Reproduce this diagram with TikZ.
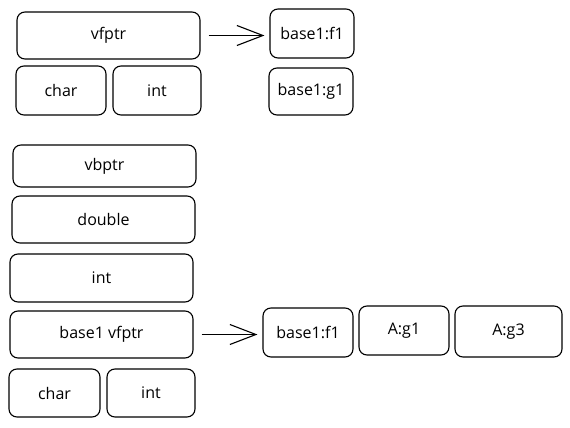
\documentclass[tikz,border=0pt]{standalone}
\usepackage{fontspec}
\setmainfont{Open Sans}
\usetikzlibrary{arrows.meta}
\tikzset{
  cell/.style={draw=black, line width=1.1pt, rounded corners=8pt, inner sep=0pt,
    font=\fontsize{16}{19}\selectfont, text=black},
  arr/.style={draw=black, line width=1.1pt, -{Straight Barb[length=26pt,width=20pt,line width=1.1pt]}}
}
\begin{document}
\begin{tikzpicture}[x=1pt,y=-1pt]
\useasboundingbox (0,0) rectangle (570,428);
% top group
\node[cell, minimum width=183pt, minimum height=47pt] (vf1) at (108.5,35.5) {vfptr};
\node[cell, minimum width=90pt, minimum height=49pt] (ch1) at (61,90.5) {char};
\node[cell, minimum width=88pt, minimum height=49pt] (in1) at (157,90.5) {int};
\node[cell, minimum width=84pt, minimum height=49pt] (fa) at (312,33.5) {base1:f1};
\node[cell, minimum width=84pt, minimum height=47pt] (ga) at (311,91.5) {base1:g1};
\draw[arr, shorten <=8pt, shorten >=5pt] (vf1.east) -- (fa.west |- vf1.east);
% bottom group
\node[cell, minimum width=183pt, minimum height=42pt] (vb) at (104.5,166) {vbptr};
\node[cell, minimum width=183pt, minimum height=47pt] (db) at (103.5,219.5) {double};
\node[cell, minimum width=183pt, minimum height=48pt] (in2) at (101.5,278) {int};
\node[cell, minimum width=183pt, minimum height=47pt] (bv) at (101.5,334.5) {base1 vfptr};
\node[cell, minimum width=91pt, minimum height=48pt] (ch2) at (54.5,393) {char};
\node[cell, minimum width=88pt, minimum height=48pt] (in3) at (151,393) {int};
\node[cell, minimum width=90pt, minimum height=49pt] (fb) at (308,332.5) {base1:f1};
\node[cell, minimum width=90pt, minimum height=49pt] (ag1) at (404,330.5) {A:g1};
\node[cell, minimum width=107pt, minimum height=51pt] (ag3) at (508.5,331.5) {A:g3};
\draw[arr, shorten <=8pt, shorten >=5pt] (bv.east) -- (fb.west |- bv.east);
\end{tikzpicture}
\end{document}
